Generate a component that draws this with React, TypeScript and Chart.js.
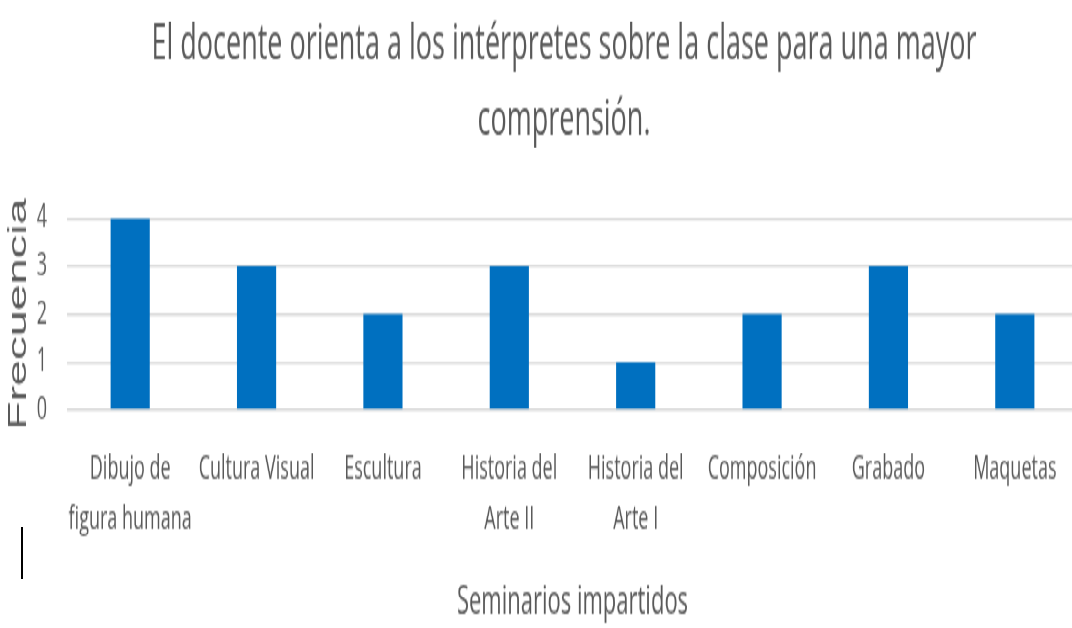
import React, { useEffect, useRef } from "react";
import { Chart, registerables } from "chart.js";

Chart.register(...registerables);

const TITLE_LINES = ["El docente orienta a los intérpretes sobre la clase para una mayor", "comprensión."];
const CATEGORIES: (string | string[])[] = [
  ["Dibujo de", "figura humana"],
  "Cultura Visual",
  "Escultura",
  ["Historia del", "Arte II"],
  ["Historia del", "Arte I"],
  "Composición",
  "Grabado",
  "Maquetas",
];
const FRECUENCIA = [4, 3, 2, 3, 1, 2, 3, 2];
const Y_TICKS = [0, 1, 2, 3, 4];
const Y_TITLE = "Frecuencia";
const X_TITLE = "Seminarios impartidos";

const W = 1072;
const CW = 1078;
const H = 349;
const STRETCH = 628 / H;
const TEXT = "#595959";

const shiftTitle = {
  id: "shiftTitle",
  afterLayout(chart: any) {
    const t = chart.titleBlock;
    if (t) {
      t.left += 25;
      t.right += 25;
    }
  },
};

export default function App() {
  const ref = useRef<HTMLCanvasElement | null>(null);
  useEffect(() => {
    document.body.style.margin = "0";
    const ctx = ref.current!.getContext("2d")!;
    const chart = new Chart(ctx, {
      type: "bar",
      plugins: [shiftTitle],
      data: {
        labels: CATEGORIES,
        datasets: [
          {
            data: FRECUENCIA,
            backgroundColor: "#0070C0",
            borderWidth: 0,
            categoryPercentage: 1,
            barPercentage: 0.31,
          },
        ],
      },
      options: {
        animation: false,
        responsive: false,
        devicePixelRatio: 1,
        layout: { padding: { left: 0, right: 0, top: 0, bottom: 1 } },
        plugins: {
          legend: { display: false },
          tooltip: { enabled: false },
          title: {
            display: true,
            text: TITLE_LINES,
            color: TEXT,
            font: { family: "'Open Sans'", size: 27, weight: "normal", lineHeight: 1.56 },
            padding: { top: 4, bottom: 33 },
          },
        },
        scales: {
          x: {
            grid: { display: false },
            border: { display: false },
            ticks: {
              color: TEXT,
              font: { family: "'Open Sans'", size: 18, lineHeight: 1.6 },
              padding: 10,
              maxRotation: 0,
              autoSkip: false,
            },
            title: {
              display: true,
              text: X_TITLE,
              color: TEXT,
              font: { family: "'Open Sans'", size: 22, lineHeight: 1.2 },
              padding: { top: 8, bottom: 0 },
            },
          },
          y: {
            min: Y_TICKS[0],
            max: Y_TICKS[Y_TICKS.length - 1],
            afterBuildTicks: (scale: any) => {
              scale.ticks = Y_TICKS.map((v) => ({ value: v }));
            },
            grid: { color: "#d9d9d9", lineWidth: 1.4, drawTicks: false },
            border: { display: false },
            ticks: {
              autoSkip: false,
              color: TEXT,
              font: { family: "'Open Sans'", size: 18 },
              padding: 20,
            },
            title: {
              display: true,
              text: Y_TITLE,
              color: TEXT,
              font: { family: "'Liberation Sans'", size: 26, weight: "normal" },
              padding: { top: 3, bottom: 0 },
            },
            afterFit: (scale: any) => {
              scale.width = 67;
            },
          },
        },
      },
    });
    return () => chart.destroy();
  }, []);

  return (
    <div
      style={{
        position: "absolute",
        left: 0,
        top: 0,
        width: W,
        height: H,
        overflow: "hidden",
        transform: `scaleY(${STRETCH})`,
        transformOrigin: "top left",
      }}
    >
      <canvas ref={ref} width={CW} height={H} style={{ display: "block", width: CW, height: H }} />
      <div style={{ position: "absolute", left: 21, top: 293, width: 2, height: 29, background: "#000" }} />
    </div>
  );
}
